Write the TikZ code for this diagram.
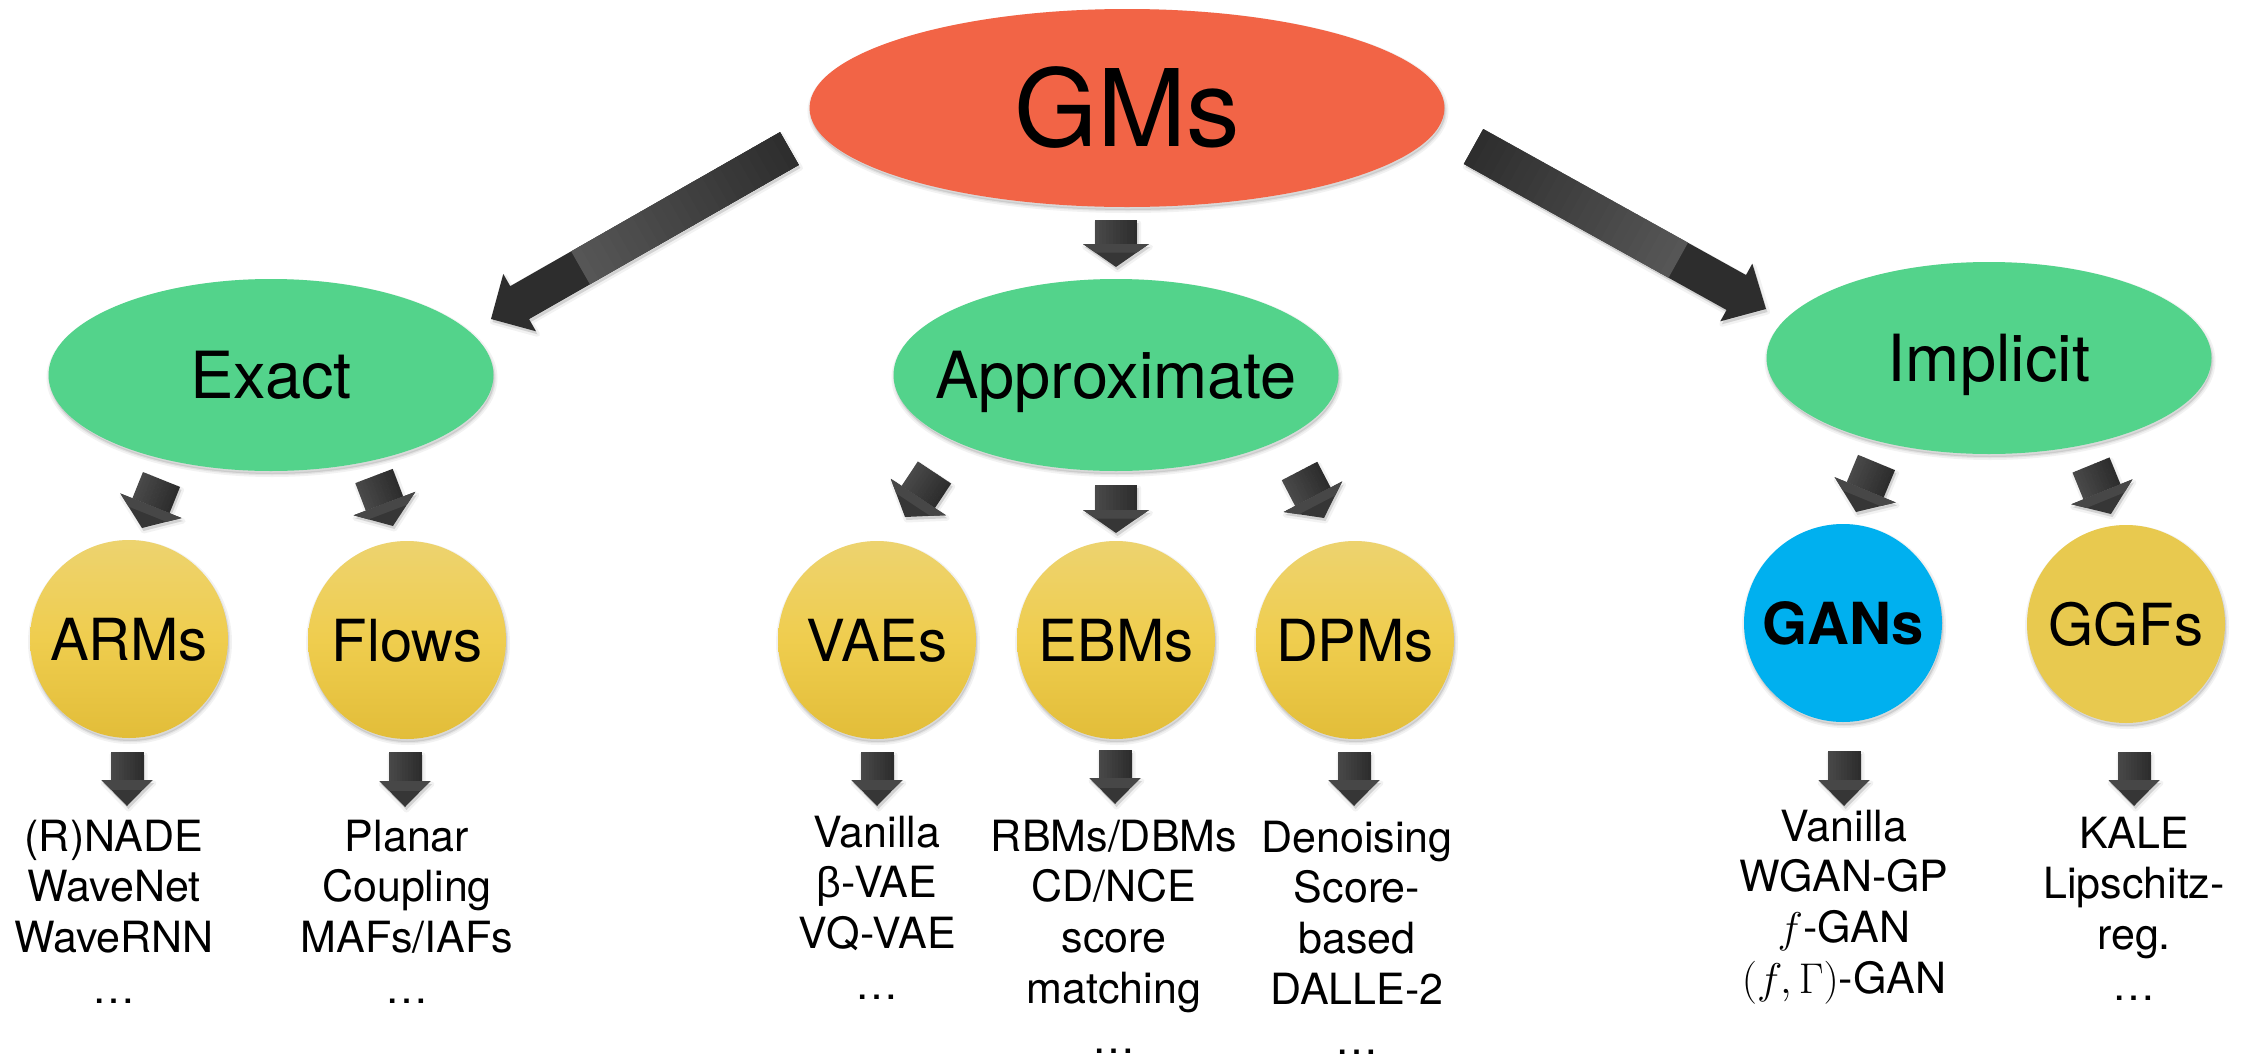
\documentclass[tikz,border=0pt]{standalone}
\usepackage{fix-cm}
\usepackage[no-math]{fontspec}
\setmainfont{TeX Gyre Heros}
\newfontfamily\betafont{Liberation Sans}
\usetikzlibrary{shapes.geometric,calc,shadows}

\definecolor{gmred}{HTML}{F26446}
\definecolor{famgreen}{HTML}{53D38B}
\definecolor{ganblue}{HTML}{00B0EF}
\definecolor{yelTop}{HTML}{EDD36F}
\definecolor{yelMid}{HTML}{EFCD4E}
\definecolor{yelBot}{HTML}{E2BD39}
\definecolor{yelFlat}{HTML}{E8C94F}
\definecolor{arrDark}{HTML}{2D2D2D}
\definecolor{arrLight}{HTML}{575757}
\definecolor{shaftLight}{HTML}{4A4A4A}
\definecolor{shaftDark}{HTML}{2C2C2C}
\definecolor{arrHead}{HTML}{363636}
\definecolor{arrBand}{HTML}{474747}

\newcommand{\centred}[1]{\makebox[0pt]{#1}}

% corner points of a block arrow: tail #1, tip #2,
% half shaft width #3, half head width #4, head length #5
\newcommand{\arrowcorners}[5]{%
  \coordinate (ah-b) at ($(#2)!#5pt!(#1)$);
  \coordinate (ah-tl) at ($(#1)!#3pt!90:(#2)$);
  \coordinate (ah-tr) at ($(#1)!#3pt!-90:(#2)$);
  \coordinate (ah-bl) at ($(ah-b)!#3pt!90:(#2)$);
  \coordinate (ah-br) at ($(ah-b)!#3pt!-90:(#2)$);
  \coordinate (ah-hl) at ($(ah-b)!#4pt!90:(#2)$);
  \coordinate (ah-hr) at ($(ah-b)!#4pt!-90:(#2)$);
}
% soft shadow under the arrow whose tip is #1
\newcommand{\arrowshade}[1]{%
  \fill[black, fill opacity=0.13, transform canvas={xshift=1.5pt,yshift=-3pt}]
    (ah-tl) -- (ah-bl) -- (ah-hl) -- (#1) -- (ah-hr) -- (ah-br) -- (ah-tr) -- cycle;
  \draw[black, draw opacity=0.05, line width=5pt, line join=round,
        transform canvas={xshift=1.5pt,yshift=-3pt}]
    (ah-tl) -- (ah-bl) -- (ah-hl) -- (#1) -- (ah-hr) -- (ah-br) -- (ah-tr) -- cycle;
}
% short arrow: shaft shaded across its width, bevelled head
\newcommand{\smallarrow}[5]{%
  \arrowcorners{#1}{#2}{#3}{#4}{#5}%
  \arrowshade{#2}%
  \foreach \k in {0,...,11}{%
    \pgfmathsetmacro{\oa}{-#3+2*#3*\k/12}%
    \pgfmathsetmacro{\ob}{min(#3,-#3+2*#3*(\k+1)/12+0.5)}%
    \pgfmathsetmacro{\mx}{100-100*(\k+0.5)/12}%
    \fill[shaftLight!\mx!shaftDark] ($(#1)!\oa pt!90:(#2)$) -- ($(ah-b)!\oa pt!90:(#2)$)
      -- ($(ah-b)!\ob pt!90:(#2)$) -- ($(#1)!\ob pt!90:(#2)$) -- cycle;
  }%
  \fill[arrHead] (ah-hl) -- (#2) -- (ah-hr) -- cycle;
  \fill[arrBand] (ah-hl) -- ($(ah-hl)!0.38!(#2)$) -- ($(ah-hr)!0.38!(#2)$) -- (ah-hr) -- cycle;
}
% long arrow: dark body with a glossy band fading towards the tail
\newcommand{\bigarrow}[5]{%
  \arrowcorners{#1}{#2}{#3}{#4}{#5}%
  \arrowshade{#2}%
  \fill[arrDark] (ah-tl) -- (ah-bl) -- (ah-hl) -- (#2) -- (ah-hr) -- (ah-br) -- (ah-tr) -- cycle;
  \foreach \k in {0,...,23}{%
    \pgfmathsetmacro{\fa}{0.7*\k/24}%
    \pgfmathsetmacro{\fb}{min(0.7,0.7*(\k+1)/24+0.005)}%
    \pgfmathsetmacro{\mx}{100*(\k+0.5)/24}%
    \coordinate (sa) at ($(#1)!\fa!(#2)$);
    \coordinate (sb) at ($(#1)!\fb!(#2)$);
    \fill[arrLight!\mx!arrDark] ($(sa)!#3pt!90:(#2)$) -- ($(sb)!#3pt!90:(#2)$)
      -- ($(sb)!#3pt!-90:(#2)$) -- ($(sa)!#3pt!-90:(#2)$) -- cycle;
  }%
}

\tikzset{
  softshadow/.style={
    general shadow={fill=black, fill opacity=0.10, draw=black, draw opacity=0.05,
                    line width=6pt, shadow xshift=1pt, shadow yshift=-3pt},
    general shadow={fill=black, fill opacity=0.0, draw=black, draw opacity=0.06,
                    line width=2.5pt, shadow xshift=1pt, shadow yshift=-3pt}},
  root/.style={ellipse, fill=gmred, minimum width=635pt, minimum height=198pt,
    inner sep=0pt, font=\fontsize{107}{107}\selectfont, text height=77pt, text depth=0pt, softshadow},
  family/.style={ellipse, fill=famgreen, minimum width=445pt, minimum height=192pt,
    inner sep=0pt, font=\fontsize{65}{65}\selectfont, text height=47pt, text depth=0pt, softshadow},
  model/.style={circle, minimum size=198pt, inner sep=0pt,
    top color=yelTop, bottom color=yelBot, middle color=yelMid,
    font=\fontsize{58}{58}\selectfont, text height=42pt, text depth=0pt, softshadow},
  flatmodel/.style={circle, minimum size=198pt, inner sep=0pt, fill=yelFlat,
    font=\fontsize{58}{58}\selectfont, text height=42pt, text depth=0pt, softshadow},
  ganmodel/.style={circle, minimum size=198pt, inner sep=0pt, fill=ganblue,
    font=\fontsize{58}{58}\selectfont\bfseries, text height=42pt, text depth=0pt, softshadow},
  listtext/.style={inner sep=0pt, anchor=base, font=\fontsize{43}{50.7}\selectfont}
}

\begin{document}
\begin{tikzpicture}[x=1pt,y=-1pt]
\fill[white] (0,0) rectangle (2247,1058);
\useasboundingbox (0,0) rectangle (2247,1058);

% tree nodes
\node[root] (gms) at (1127,108) {\centred{GMs}};
\node[family] (exact) at (271,375) {\centred{Exact}};
\node[family] (approx) at (1116,375) {\centred{Approximate}};
\node[family] (implicit) at (1989,358) {\centred{Implicit}};

\node[model] (arms) at (129,639) {\centred{ARMs}};
\node[model] (flows) at (407,640) {\centred{Flows}};
\node[model] (vaes) at (877,640) {\centred{VAEs}};
\node[model] (ebms) at (1116,640) {\centred{EBMs}};
\node[model] (dpms) at (1355,640) {\centred{DPMs}};
\node[ganmodel] (gans) at (1843,623) {\centred{GANs}};
\node[flatmodel] (ggfs) at (2126,624) {\centred{GGFs}};

% example lists
\node[listtext] (armsList) at (114,851) {\begin{tabular}[t]{@{}c@{}}(R)NADE\\WaveNet\\WaveRNN\\…\end{tabular}};
\node[listtext] (flowsList) at (407,851) {\begin{tabular}[t]{@{}c@{}}Planar\\Coupling\\MAFs/IAFs\\…\end{tabular}};
\node[listtext] (vaesList) at (877,847) {\begin{tabular}[t]{@{}c@{}}Vanilla\\{\betafont β}-VAE\\VQ-VAE\\…\end{tabular}};
\node[listtext] (ebmsList) at (1114,851) {\begin{tabular}[t]{@{}c@{}}RBMs/DBMs\\CD/NCE\\score\\matching\\…\end{tabular}};
\node[listtext] (dpmsList) at (1357,852) {\begin{tabular}[t]{@{}c@{}}Denoising\\Score-\\based\\DALLE-2\\…\end{tabular}};
\node[listtext] (gansList) at (1844,841) {\begin{tabular}[t]{@{}c@{}}Vanilla\\WGAN-GP\\$f$-GAN\\$(f,\Gamma)$-GAN\end{tabular}};
\node[listtext] (ggfsList) at (2134,848) {\begin{tabular}[t]{@{}c@{}}KALE\\Lipschitz-\\reg.\\…\end{tabular}};

% arrow end points
\coordinate (gmsExactT) at (789.5,148.5);   \coordinate (gmsExactP) at (491,319);
\coordinate (gmsImplT) at (1473.5,146.5);   \coordinate (gmsImplP) at (1766,309);
\coordinate (gmsApproxT) at (1116,220);     \coordinate (gmsApproxP) at (1116,267);

\coordinate (exArmsT) at (161.5,479.5);     \coordinate (exArmsP) at (142,528);
\coordinate (exFlowsT) at (374,476);        \coordinate (exFlowsP) at (393,526);
\coordinate (apVaesT) at (934.5,472.5);     \coordinate (apVaesP) at (905,517);
\coordinate (apEbmsT) at (1116,485);        \coordinate (apEbmsP) at (1116,533);
\coordinate (apDpmsT) at (1299.5,471);      \coordinate (apDpmsP) at (1324,518);
\coordinate (imGansT) at (1876.5,462.5);    \coordinate (imGansP) at (1856,512);
\coordinate (imGgfsT) at (2091,465);        \coordinate (imGgfsP) at (2111,514);

\coordinate (armsT) at (127,752);   \coordinate (armsP) at (127,806);
\coordinate (flowsT) at (405,752);  \coordinate (flowsP) at (405,807);
\coordinate (vaesT) at (877,752);   \coordinate (vaesP) at (877,806);
\coordinate (ebmsT) at (1115,750);  \coordinate (ebmsP) at (1115,804);
\coordinate (dpmsT) at (1354,752);  \coordinate (dpmsP) at (1354,806);
\coordinate (gansT) at (1844,751);  \coordinate (gansP) at (1844,806);
\coordinate (ggfsT) at (2134,752);  \coordinate (ggfsP) at (2134,806);

% arrows from the root
\bigarrow{gmsExactT}{gmsExactP}{19}{33}{33}
\bigarrow{gmsImplT}{gmsImplP}{20}{33}{34}
\smallarrow{gmsApproxT}{gmsApproxP}{21}{33}{23}

% arrows from the families
\smallarrow{exArmsT}{exArmsP}{20}{33}{24}
\smallarrow{exFlowsT}{exFlowsP}{20}{33}{24}
\smallarrow{apVaesT}{apVaesP}{20}{33}{24}
\smallarrow{apEbmsT}{apEbmsP}{21}{33}{23}
\smallarrow{apDpmsT}{apDpmsP}{20}{33}{24}
\smallarrow{imGansT}{imGansP}{20}{33}{24}
\smallarrow{imGgfsT}{imGgfsP}{20}{33}{24}

% arrows to the example lists
\smallarrow{armsT}{armsP}{16.5}{25.5}{26}
\smallarrow{flowsT}{flowsP}{16.5}{25.5}{26}
\smallarrow{vaesT}{vaesP}{16.5}{25.5}{26}
\smallarrow{ebmsT}{ebmsP}{16.5}{25.5}{26}
\smallarrow{dpmsT}{dpmsP}{16.5}{25.5}{26}
\smallarrow{gansT}{gansP}{16.5}{25.5}{26}
\smallarrow{ggfsT}{ggfsP}{16.5}{25.5}{26}
\end{tikzpicture}
\end{document}
